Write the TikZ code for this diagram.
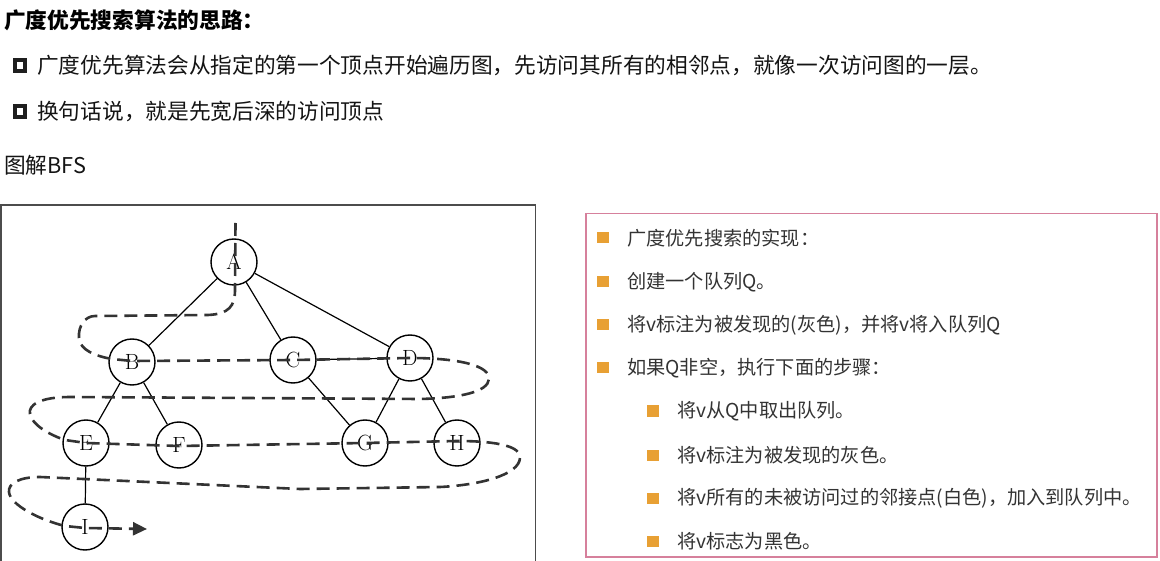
\documentclass[tikz,border=0pt]{standalone}
\usepackage{fontspec}
\newfontfamily\cjk{Noto Sans CJK SC}
\usetikzlibrary{arrows.meta}
\definecolor{obul}{RGB}{232,160,52}
\definecolor{pinkb}{RGB}{214,128,156}
\begin{document}
\begin{tikzpicture}[x=1pt,y=-1pt,
  vtx/.style={circle, draw, line width=1.4pt, minimum size=46pt, inner sep=0pt, fill=white, font=\fontsize{22}{22}\selectfont},
  edge/.style={line width=1.2pt},
  trav/.style={line width=2.6pt, dash pattern=on 13pt off 7pt, draw=black!80},
  ltxt/.style={anchor=west, inner sep=0pt, font=\cjk\fontsize{21.7}{22}\selectfont, text=black!92},
  rtxt/.style={anchor=west, inner sep=0pt, font=\cjk\fontsize{19.2}{20}\selectfont, text=black!80},
  hbul/.style={draw=black!88, line width=3.6pt, minimum size=10.5pt, inner sep=0pt},
  obox/.style={fill=obul, minimum width=12pt, minimum height=11pt, inner sep=0pt}]
\useasboundingbox[fill=white] (0,0) rectangle (1160,561);

% header texts
\node[ltxt, font=\cjk\bfseries\fontsize{21.7}{22}\selectfont, text=black] (title) at (4,20) {广度优先搜索算法的思路：};
\node[hbul] (b1) at (20,65.5) {};
\node[ltxt] (t1) at (37,65.5) {广度优先算法会从指定的第一个顶点开始遍历图，先访问其所有的相邻点，就像一次访问图的一层。};
\node[hbul] (b2) at (20,111.5) {};
\node[ltxt] (t2) at (37,111.5) {换句话说，就是先宽后深的访问顶点};
\node[ltxt] (t3) at (4,165) {图解BFS};

% left panel frame
\draw[line width=1.6pt, draw=black!70] (0.8,561) -- (0.8,205) -- (535.5,205) -- (535.5,561);

% vertices
\node[vtx] (A) at (234,262) {A};
\node[vtx] (B) at (132,362) {B};
\node[vtx] (C) at (293,360) {C};
\node[vtx] (D) at (410,358) {D};
\node[vtx] (E) at (86,443) {E};
\node[vtx] (F) at (179,445) {F};
\node[vtx] (G) at (365,443) {G};
\node[vtx] (H) at (457,443) {H};
\node[vtx] (I) at (85,527) {I};

% edges
\draw[edge] (A) -- (B);
\draw[edge] (A) -- (C);
\draw[edge] (A) -- (D);
\draw[edge] (C) -- (D);
\draw[edge] (B) -- (E);
\draw[edge] (B) -- (F);
\draw[edge] (C) -- (G);
\draw[edge] (D) -- (G);
\draw[edge] (D) -- (H);
\draw[edge] (E) -- (I);

% traversal path
\coordinate (s0) at (235.5,223);
\coordinate (s1) at (147,529);
\draw[trav, -{Triangle[length=14pt,width=13pt]}] (s0) -- (235,290)
  .. controls (235,306) and (229,314) .. (208,315)
  -- (95,316)
  .. controls (85,316) and (78,326) .. (79,338)
  .. controls (80,350) and (95,356) .. (112,359)
  -- (132,361) -- (293,360) -- (410,358)
  .. controls (460,358) and (490,366) .. (489,379)
  .. controls (488,392) and (460,398) .. (420,399)
  -- (70,397)
  .. controls (40,397) and (28,405) .. (30,414)
  .. controls (32,425) and (50,435) .. (65,440)
  -- (86,443) -- (179,446) -- (365,443) -- (457,441)
  .. controls (500,441) and (521,447) .. (520,458)
  .. controls (519,475) and (480,485) .. (440,487)
  -- (300,489) -- (40,477)
  .. controls (20,477) and (8,483) .. (9,492)
  .. controls (10,505) and (40,520) .. (65,526)
  -- (85,528) -- (s1);

% right panel
\draw[line width=1.4pt, draw=pinkb] (586,213.5) rectangle (1157,557);
\foreach \y/\t [count=\i] in {238/{广度优先搜索的实现：}, 282/{创建一个队列Q。}, 325/{将v标注为被发现的(灰色)，并将v将入队列Q}, 368/{如果Q非空，执行下面的步骤：}} {
  \node[obox] (rb\i) at (603,\y) {};
  \node[rtxt] (rt\i) at (627,\y) {\t};
}
\foreach \y/\t [count=\i] in {411/{将v从Q中取出队列。}, 455/{将v标注为被发现的灰色。}, 498/{将v所有的未被访问过的邻接点(白色)，加入到队列中。}, 541/{将v标志为黑色。}} {
  \node[obox] (sb\i) at (653,\y) {};
  \node[rtxt] (st\i) at (677,\y) {\t};
}
\end{tikzpicture}
\end{document}
